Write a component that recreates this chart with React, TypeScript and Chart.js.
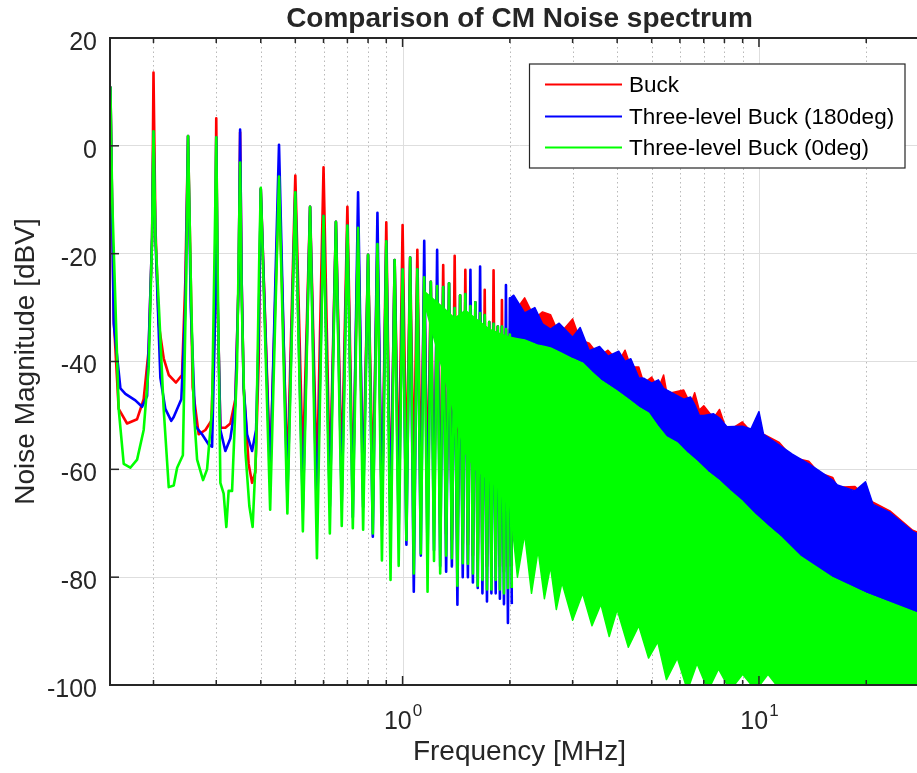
import React, { useEffect, useRef } from "react";
import { Chart, registerables } from "chart.js";

Chart.register(...registerables);

const FONT = "'Liberation Sans', Arial, Helvetica, sans-serif";
const INK = "#262626";
const RED = "#ff0000";
const BLUE = "#0000ff";
const GREEN = "#00ff00";
const NONE = "rgba(0,0,0,0)";

const seriesNames = ["Buck", "Three-level Buck (180deg)", "Three-level Buck (0deg)"];
const seriesColors = [RED, BLUE, GREEN];

const xMin = 0.151;
const xMax = 30;
const xMajorTicks = [1, 10];
const xMajorExp = ["0", "1"];
const xMinorTicks = [0.2, 0.3, 0.4, 0.5, 0.6, 0.7, 0.8, 0.9, 2, 3, 4, 5, 6, 7, 8, 9, 20];
const yTicks = [20, 0, -20, -40, -60, -80, -100];

// ---- low-frequency part (0.15 - 0.4 MHz), [MHz, dBV] ----
const buckLow: number[][] = [
  [0.1514, 11], [0.1547, -32], [0.1597, -48.8], [0.1686, -51.5], [0.1799, -50.7], [0.1877, -47],
  [0.1939, -37.8], [0.1982, -17], [0.2, 13.6], [0.2025, -15], [0.2068, -33], [0.2136, -39.4],
  [0.2207, -42.5], [0.2313, -43.9], [0.2405, -42.5], [0.2457, -25], [0.25, 1.8], [0.2545, -25],
  [0.2576, -44.8], [0.2678, -53.5], [0.2797, -52.7], [0.2907, -51], [0.297, -33], [0.3, 5.1],
  [0.303, -30], [0.3081, -52.3], [0.3182, -52.3], [0.3286, -51.5], [0.3394, -47], [0.3467, -25],
  [0.35, 2.5], [0.3535, -25], [0.3581, -44.8], [0.3698, -59], [0.3781, -62.5], [0.3862, -60.5],
  [0.3946, -40], [0.4, -8],
];
const tl180Low: number[][] = [
  [0.1514, 11], [0.1547, -33], [0.1615, -45], [0.1668, -46], [0.1779, -47.2], [0.1858, -48.4],
  [0.1919, -46.4], [0.1982, -17], [0.2, 2.6], [0.2025, -17], [0.2091, -43], [0.2159, -48.8],
  [0.2243, -51], [0.2279, -50.3], [0.2394, -47], [0.2457, -30], [0.25, 1.8], [0.2545, -30],
  [0.2621, -52], [0.2737, -53.5], [0.2857, -55.4], [0.292, -55.8], [0.297, -35], [0.3, 1.6],
  [0.303, -30], [0.3081, -52.7], [0.3182, -56.6], [0.3286, -54.3], [0.3394, -48], [0.3467, -25],
  [0.35, 3.0], [0.3535, -25], [0.3581, -44.8], [0.3661, -53.5], [0.3781, -56.6], [0.388, -52.7],
  [0.3946, -35], [0.4, -8],
];
const tl0Low: number[][] = [
  [0.1514, 11], [0.1531, -9.6], [0.1597, -48.8], [0.165, -59], [0.1722, -59.7], [0.1799, -58.2],
  [0.1877, -52.7], [0.1939, -41], [0.1982, -17], [0.2, 2.7], [0.2025, -17], [0.2068, -29],
  [0.2136, -48.8], [0.2207, -63.3], [0.2279, -63], [0.233, -59.7], [0.2418, -57.4], [0.247, -25],
  [0.25, 1.8], [0.2545, -25], [0.2593, -48.8], [0.2651, -58.2], [0.2755, -62], [0.2827, -60],
  [0.292, -48.8], [0.2983, -10], [0.3, 1.6], [0.303, -25], [0.3081, -62.5], [0.3147, -64.5],
  [0.3202, -70.7], [0.325, -64], [0.3323, -64], [0.3431, -41], [0.35, -3.1], [0.3535, -28],
  [0.3621, -56.6], [0.3715, -66.8], [0.3795, -70.7], [0.388, -56.6], [0.3963, -20], [0.4, -7.8],
];

// ---- individual harmonics 0.45 - 2.0 MHz ----
const harmonicMHz = [
  0.45, 0.5, 0.55, 0.6, 0.65, 0.7, 0.75, 0.8, 0.85, 0.9,
  0.95, 1.0, 1.05, 1.1, 1.15, 1.2, 1.25, 1.3, 1.35, 1.4,
  1.45, 1.5, 1.55, 1.6, 1.65, 1.7, 1.75, 1.8, 1.85, 1.9,
  1.95, 2.0,
];
const troughMHz = [
  0.425, 0.475, 0.525, 0.575, 0.625, 0.675, 0.725, 0.775, 0.825, 0.875,
  0.925, 0.975, 1.025, 1.075, 1.125, 1.175, 1.225, 1.275, 1.325, 1.375,
  1.425, 1.475, 1.525, 1.575, 1.625, 1.675, 1.725, 1.775, 1.825, 1.875,
  1.925, 1.975, 2.025,
];
const buckPeaks = [
  -6, -5.5, -11.3, -4.0, -14.1, -11.3, -15.2, -20.2, -18.2, -14.2,
  -21.2, -14.7, -20.7, -19.3, -24.4, -25.2, -26, -22.1, -25.5, -20.4,
  -27.7, -23, -29.7, -29, -31, -26.7, -32.7, -23.1, -33.5, -28.6,
  -34, -34,
];
const tl180Peaks = [
  0.2, -8.6, -11.3, -13, -14.1, -14.8, -8.6, -20.2, -12.4, -17.7,
  -21.2, -22.9, -20.7, -22.9, -17.6, -25.2, -19.3, -26.2, -25.5, -30.1,
  -27.7, -27.5, -23, -29, -22.4, -31.4, -32.7, -33, -33.5, -33.5,
  -25.8, -28.3,
];
const tl0Peaks = [
  -5.7, -8.6, -11.3, -13, -14.1, -14.8, -15.2, -20.2, -18.2, -17.7,
  -21.2, -22.9, -20.7, -22.9, -24.4, -25.2, -26, -26.2, -25.5, -30.1,
  -27.7, -27.5, -29.7, -29, -31, -31.4, -32.7, -33, -33.5, -33.5,
  -34, -35,
];
const buckTroughs = [
  -59.9, -61, -59.2, -61.9, -62.5, -60.5, -64.2, -63.5, -63.5, -68.9,
  -69.2, -62.9, -62, -62, -63, -64, -66, -70, -72, -73,
  -75, -74, -74, -76, -77, -77, -78, -78, -77, -78,
  -79, -78, -78,
];
const tl180Troughs = [
  -61.9, -65, -67.5, -69.5, -66.9, -66, -68.9, -67, -72.5, -70.5,
  -72, -71.2, -74, -82.7, -76, -76.8, -75, -78, -79, -78,
  -85.1, -80, -80, -81, -82, -83, -84.5, -83, -83, -84,
  -85, -88.5, -85,
];
const tl0Troughs = [
  -67.5, -68.2, -71.5, -76.5, -71.9, -70.5, -70.9, -71.2, -71.9, -76.9,
  -80.5, -77.9, -73.1, -79.3, -75.6, -82.7, -77, -79.3, -76, -76.5,
  -81.6, -77.4, -77.5, -79.3, -81.6, -80.5, -82.3, -82.3, -80.5, -82.3,
  -83, -82, -82,
];

// ---- dense region: envelopes of the packed harmonics ----
const greenBandMHz = [
  1.15, 1.3, 1.4, 1.5, 1.6, 1.75, 1.9, 2.0, 2.1, 2.2, 2.3, 2.4, 2.5, 2.6, 2.7, 2.8, 3.0, 3.2, 3.4, 3.6, 3.8, 4.0,
  4.3, 4.6, 4.9, 5.2, 5.5, 5.9, 6.3, 6.7, 7.2, 7.7, 8.3, 9.0, 9.8, 10.6, 11.5, 13.1, 16, 20, 25, 30,
];
const greenBandTop = [
  -27, -30, -32, -30.5, -32, -34, -35, -35.5, -35.8, -36, -36.5, -37, -37.2, -37.5, -38, -38.5, -39.5, -40.3, -42, -43.5, -44.5, -45.5,
  -47, -48.5, -49.6, -52, -54, -55.1, -57, -58.5, -60.5, -62, -64, -66, -68.5, -70.5, -72.5, -76.2, -80, -83, -85.5, -87.5,
];
const greenBandBottom = [
  -29, -42, -50, -57, -60, -62, -64, -66, -80, -72, -83, -75, -84, -78, -86, -81, -88, -83, -89, -85, -91, -86,
  -93, -89, -95, -92, -99, -95, -101, -96, -101, -97, -101, -98, -101, -98, -101, -101, -101, -101, -101, -101,
];
const rbBandMHz = [
  2.0, 2.05, 2.2, 2.35, 2.47, 2.6, 2.75, 3.0, 3.15, 3.34, 3.57, 3.77, 4.04, 4.21, 4.37,
  4.6, 4.75, 5.0, 5.22, 5.4, 5.52, 6.15, 6.43, 6.6, 6.8, 7.0, 7.46, 7.75, 8.13, 8.98,
  9.5, 10.0, 10.3, 11.4, 12.4, 13.8, 14.7, 16.1, 16.6, 18.6, 19.9, 20.9, 23.3, 27.0, 30.0,
];
const buckBandTop = [
  -30, -31, -28.2, -32, -30.8, -31.3, -35, -32.1, -36, -36.6, -39, -37.9, -40, -37.9, -41,
  -41, -44, -42.9, -45, -42.5, -46, -45.3, -48, -45.8, -49, -48.2, -50.5, -48.9, -53, -51.2,
  -53, -52, -53.5, -55, -57.8, -58.5, -60.6, -61.5, -63.3, -63.2, -65, -66.1, -67.7, -71.3, -72.5,
];
const tl180BandTop = [
  -28.3, -27.7, -31, -30, -33, -34, -32.9, -35.5, -33.7, -38, -37.2, -39, -38.1, -40, -39.5,
  -43, -43.1, -44, -43.4, -45, -45.3, -47, -46.6, -48, -50, -50, -49.7, -50.5, -52.1, -52,
  -52.5, -49.3, -53.5, -55.5, -57.2, -59, -60.2, -62, -62.9, -64, -62.3, -66.5, -68, -71.5, -73,
];

function pts(xs: number[], ys: number[]) {
  return xs.map((x, i) => ({ x, y: ys[i] }));
}
function spikeLine(low: number[][], peaks: number[], troughs: number[]) {
  const out = low.map(([x, y]) => ({ x, y }));
  troughMHz.forEach((tx, i) => {
    out.push({ x: tx, y: troughs[i] });
    if (i < harmonicMHz.length) out.push({ x: harmonicMHz[i], y: peaks[i] });
  });
  return out;
}

const decor = {
  id: "decor",
  beforeDatasetsDraw(chart: any) {
    const { ctx, chartArea: a, scales } = chart;
    const x = scales.x;
    ctx.save();
    ctx.beginPath();
    ctx.rect(a.left, a.top, a.right - a.left, a.bottom - a.top);
    ctx.clip();
    ctx.lineWidth = 1;
    ctx.strokeStyle = "rgba(38,38,38,0.32)";
    ctx.setLineDash([1.5, 3]);
    for (const v of xMinorTicks) {
      const px = Math.round(x.getPixelForValue(v)) + 0.5;
      ctx.beginPath();
      ctx.moveTo(px, a.top);
      ctx.lineTo(px, a.bottom);
      ctx.stroke();
    }
    ctx.setLineDash([]);
    ctx.strokeStyle = "#dedede";
    for (const v of xMajorTicks) {
      const px = Math.round(x.getPixelForValue(v)) + 0.5;
      ctx.beginPath();
      ctx.moveTo(px, a.top);
      ctx.lineTo(px, a.bottom);
      ctx.stroke();
    }
    ctx.restore();
  },
  afterDatasetsDraw(chart: any) {
    const { ctx, chartArea: a, scales } = chart;
    const x = scales.x;
    const y = scales.y;
    ctx.save();
    ctx.setLineDash([]);
    ctx.strokeStyle = INK;
    ctx.lineWidth = 1.5;
    for (const v of yTicks) {
      const py = y.getPixelForValue(v);
      ctx.beginPath();
      ctx.moveTo(a.left, py);
      ctx.lineTo(a.left + 9, py);
      ctx.stroke();
    }
    const allX = [...xMinorTicks.map((v) => [v, 5]), ...xMajorTicks.map((v) => [v, 9])];
    for (const [v, len] of allX) {
      const px = x.getPixelForValue(v);
      ctx.beginPath();
      ctx.moveTo(px, a.bottom);
      ctx.lineTo(px, a.bottom - len);
      ctx.moveTo(px, a.top);
      ctx.lineTo(px, a.top + len);
      ctx.stroke();
    }
    ctx.lineWidth = 2;
    ctx.beginPath();
    ctx.moveTo(a.right, a.top);
    ctx.lineTo(a.left, a.top);
    ctx.lineTo(a.left, a.bottom);
    ctx.lineTo(a.right, a.bottom);
    ctx.stroke();
    ctx.fillStyle = INK;
    ctx.textBaseline = "alphabetic";
    ctx.textAlign = "left";
    xMajorTicks.forEach((v, i) => {
      const px = x.getPixelForValue(v);
      ctx.font = `25px ${FONT}`;
      const wb = ctx.measureText("10").width;
      ctx.font = `17px ${FONT}`;
      const we = ctx.measureText(xMajorExp[i]).width;
      const start = px - (wb + we) / 2;
      ctx.font = `25px ${FONT}`;
      ctx.fillText("10", start, 729);
      ctx.font = `17px ${FONT}`;
      ctx.fillText(xMajorExp[i], start + wb + 1, 716);
    });
    ctx.font = `bold 28px ${FONT}`;
    ctx.textAlign = "center";
    ctx.fillText("Comparison of CM Noise spectrum", (a.left + a.right) / 2, 27);
    const lx = 529.5, ly = 64, lw = 375.5, lh = 104;
    ctx.fillStyle = "#ffffff";
    ctx.fillRect(lx, ly, lw, lh);
    ctx.lineWidth = 1.2;
    ctx.strokeStyle = INK;
    ctx.strokeRect(lx, ly, lw, lh);
    const rows = [84.5, 116.5, 147.5];
    ctx.font = `22.5px ${FONT}`;
    ctx.textAlign = "left";
    ctx.textBaseline = "middle";
    seriesNames.forEach((name, i) => {
      ctx.strokeStyle = seriesColors[i];
      ctx.lineWidth = 2;
      ctx.beginPath();
      ctx.moveTo(545, rows[i]);
      ctx.lineTo(622, rows[i]);
      ctx.stroke();
      ctx.fillStyle = "#000000";
      ctx.fillText(name, 629, rows[i] + 1);
    });
    ctx.restore();
  },
};

export default function App() {
  const ref = useRef<HTMLCanvasElement>(null);
  useEffect(() => {
    const line = { pointRadius: 0, pointHoverRadius: 0, tension: 0, borderJoinStyle: "round" as const };
    const chart = new Chart(ref.current as HTMLCanvasElement, {
      type: "line",
      data: {
        datasets: [
          { ...line, label: seriesNames[0], data: spikeLine(buckLow, buckPeaks, buckTroughs), borderColor: RED, borderWidth: 2.6, fill: false, order: 70 },
          { ...line, label: "buck-env", data: pts(rbBandMHz, buckBandTop), borderColor: RED, borderWidth: 1.5, backgroundColor: RED, fill: { target: 3, above: RED, below: NONE }, order: 60 },
          { ...line, label: seriesNames[1], data: spikeLine(tl180Low, tl180Peaks, tl180Troughs), borderColor: BLUE, borderWidth: 2.6, fill: false, order: 50 },
          { ...line, label: "tl180-env", data: pts(rbBandMHz, tl180BandTop), borderColor: BLUE, borderWidth: 1.5, backgroundColor: BLUE, fill: { target: 5, above: BLUE, below: NONE }, order: 40 },
          { ...line, label: seriesNames[2], data: spikeLine(tl0Low, tl0Peaks, tl0Troughs), borderColor: GREEN, borderWidth: 2.6, fill: false, order: 30 },
          { ...line, label: "tl0-env-top", data: pts(greenBandMHz, greenBandTop), borderColor: GREEN, borderWidth: 1.5, backgroundColor: GREEN, fill: { target: 6, above: GREEN, below: GREEN }, order: 20 },
          { ...line, label: "tl0-env-bottom", data: pts(greenBandMHz, greenBandBottom), borderColor: GREEN, borderWidth: 1.5, fill: false, order: 10 },
        ],
      },
      options: {
        animation: false,
        responsive: false,
        devicePixelRatio: 1,
        events: [],
        layout: { padding: { top: 38, right: 1, left: 0, bottom: 0 } },
        plugins: { legend: { display: false }, tooltip: { enabled: false }, title: { display: false } },
        scales: {
          x: {
            type: "logarithmic",
            min: xMin,
            max: xMax,
            ticks: { display: false },
            grid: { display: false },
            border: { display: false },
            title: { display: true, text: "Frequency [MHz]", color: INK, font: { family: FONT, size: 28 }, padding: { top: 0, bottom: 4 } },
            afterFit: (s: any) => { s.height = 88; },
          },
          y: {
            type: "linear",
            min: -100,
            max: 20,
            ticks: { stepSize: 20, color: INK, font: { family: FONT, size: 25 }, padding: 13, labelOffset: 5 },
            grid: { color: "#dedede", lineWidth: 1, drawTicks: false },
            border: { display: false },
            title: { display: true, text: "Noise Magnitude [dBV]", color: INK, font: { family: FONT, size: 28 }, padding: { top: 9, bottom: 0 } },
            afterFit: (s: any) => { s.width = 110; },
          },
        },
      },
      plugins: [decor],
    } as any);
    return () => chart.destroy();
  }, []);
  return (
    <div style={{ position: "fixed", left: 0, top: 0, width: 917, height: 773, overflow: "hidden", background: "#ffffff" }}>
      <canvas ref={ref} width={930} height={773} style={{ display: "block" }} />
    </div>
  );
}
